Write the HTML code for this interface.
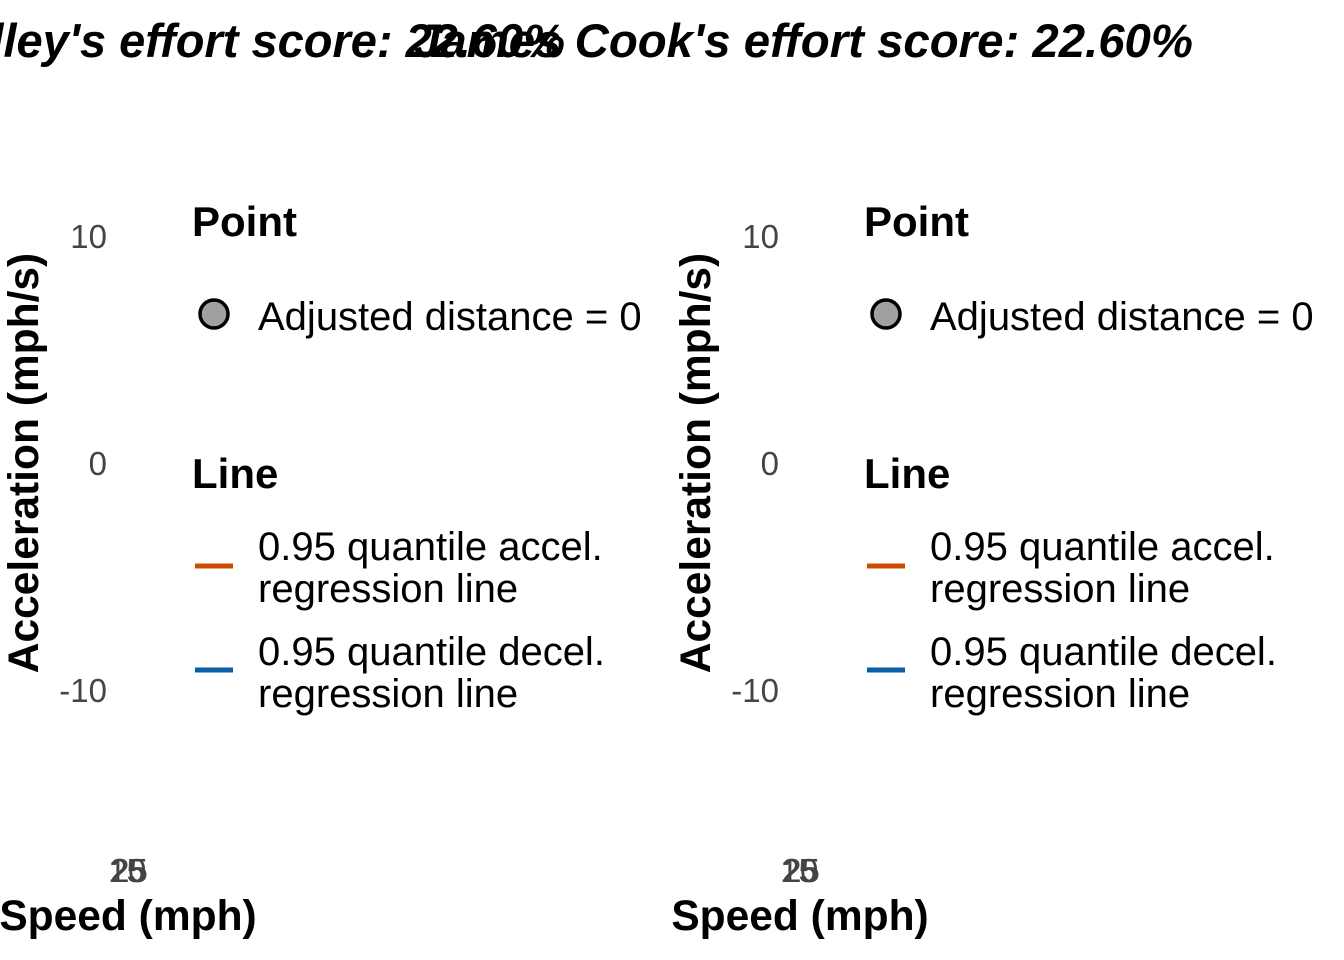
<!DOCTYPE html>
<html><head><meta charset="utf-8"><style>
html,body{margin:0;padding:0;background:#fff;}
svg{display:block;font-family:"Liberation Sans",Arial,sans-serif;}
</style></head><body>
<svg id="chart" width="1344" height="960" viewBox="0 0 1344 960"></svg>
<script>
const panelTitles = ["Bradley's effort score: 22.60%", "James Cook's effort score: 22.60%"];
const yTickLabels = ["10", "0", "-10"];
const yTickValues = [10, 0, -10];
const xTickLabels = ["25", "20", "15"];
const xTickValues = [25, 20, 15];
const pointSpeeds = [];
const pointAccels = [];
const NS = "http://www.w3.org/2000/svg";
const svg = document.getElementById("chart");
function mk(tag, attrs, parent, text){
  const e = document.createElementNS(NS, tag);
  for (const k in attrs) e.setAttribute(k, attrs[k]);
  if (text !== undefined) e.textContent = text;
  (parent || svg).appendChild(e);
  return e;
}
function yScale(v){ return 463 - v * 22.7; }
function xScale(v){ return 128 + (v - 20) * 0.3; }
[0, 672].forEach((off, i) => {
  const g = mk("g", {transform: "translate(" + off + ",0)"});
  
  
  const t = mk("text", i === 0
    ? {x: 565, y: 57, "text-anchor": "end", "font-size": 47, "font-weight": "bold", "font-style": "italic"}
    : {x: 414 - off, y: 57, "font-size": 47, "font-weight": "bold", "font-style": "italic", textLength: 779, lengthAdjust: "spacingAndGlyphs"}, g, panelTitles[i]);
  
  
  yTickValues.forEach((v, j) => {
    const tk = mk("text", {x: 107, y: yScale(v) + 12, "text-anchor": "end", "font-size": 33, fill: "#444"}, g, yTickLabels[j]);
    
    
  });
  xTickValues.forEach((v, j) => {
    const tk = mk("text", {x: xScale(v), y: 882, "text-anchor": "middle", "font-size": 33, fill: "#444"}, g, xTickLabels[j]);
    
    
  });
  pointSpeeds.forEach((s, j) => {
    const c = mk("circle", {cx: xScale(s), cy: yScale(pointAccels[j]), r: 5, fill: "#a0a0a0", stroke: "#000"}, g);
    
    
  });
  const yt = mk("text", {x: 0, y: 0, transform: "translate(38,463) rotate(-90)", "text-anchor": "middle", "font-size": 42.5, "font-weight": "bold"}, g, "Acceleration (mph/s)");
  
  
  const xt = mk("text", {x: 128, y: 930, "text-anchor": "middle", "font-size": 42.5, "font-weight": "bold"}, g, "Speed (mph)");
  
  
  const lg = mk("g", {}, g);
  
  
  const items = [
    ["text", {x: 192, y: 236, "font-size": 42, "font-weight": "bold"}, "Point", "legend-title-point"],
    ["text", {x: 258, y: 330, "font-size": 40}, "Adjusted distance = 0", "legend-label-point"],
    ["text", {x: 192, y: 488, "font-size": 42, "font-weight": "bold"}, "Line", "legend-title-line"],
    ["text", {x: 258, y: 560, "font-size": 40}, "0.95 quantile accel.", "legend-label-accel"],
    ["text", {x: 258, y: 602, "font-size": 40}, "regression line", "legend-label-accel-2"],
    ["text", {x: 258, y: 665, "font-size": 40}, "0.95 quantile decel.", "legend-label-decel"],
    ["text", {x: 258, y: 707, "font-size": 40}, "regression line", "legend-label-decel-2"]
  ];
  items.forEach(it => {
    const e = mk(it[0], it[1], lg, it[2]);
    
    
  });
  const pc = mk("circle", {cx: 214, cy: 314, r: 14, fill: "#a0a0a0", stroke: "#000", "stroke-width": 3.5}, lg);
  
  
  const l1 = mk("line", {x1: 195, x2: 233, y1: 566, y2: 566, stroke: "#cc4c02", "stroke-width": 5}, lg);
  
  
  const l2 = mk("line", {x1: 195, x2: 233, y1: 670, y2: 670, stroke: "#0a5fa8", "stroke-width": 5}, lg);
  
  
});
</script>
</body></html>
